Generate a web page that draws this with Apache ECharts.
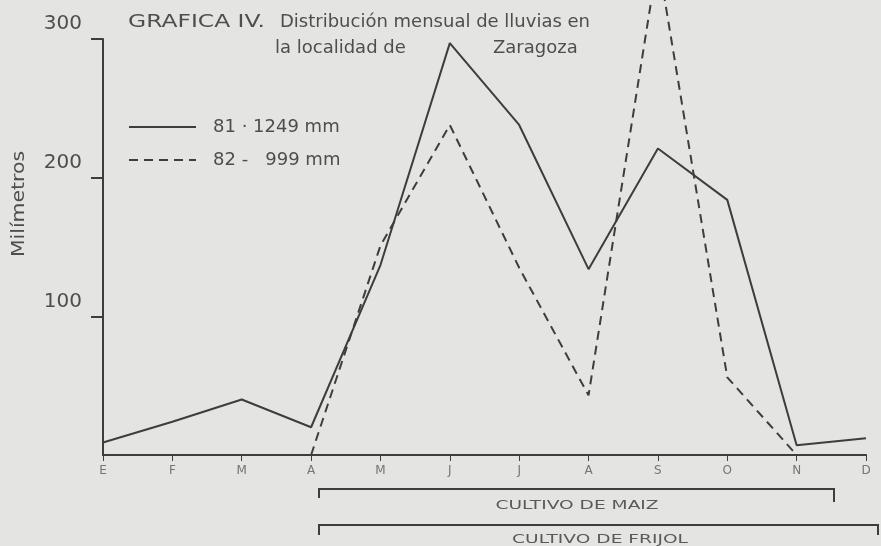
<!DOCTYPE html>
<html>
<head>
<meta charset="utf-8">
<script src="https://cdn.jsdelivr.net/npm/echarts@6/dist/echarts.min.js"></script>
<style>
    html, body { margin: 0; padding: 0; background: #e4e4e2; }
    #chart { width: 881px; height: 546px; }
</style>
</head>
<body>
<div id="chart"></div>
<script>
const months = ['E', 'F', 'M', 'A', 'M', 'J', 'J', 'A', 'S', 'O', 'N', 'D'];
// lluvia mensual (mm)
const rain81 = [9, 24, 40, 20, 137, 297, 238, 134, 221, 184, 7, 12];
const rain82 = [null, null, null, 0, 151, 238, 135, 43, 358, 56, 0, null];
const yTicks = [100, 200, 300];
const seriesNames = ['81 · 1249 mm', '82 -   999 mm'];

const ink = '#3d3d3d';
const textColor = '#4e4e4e';
const font = 'DejaVu Sans';

const chart = echarts.init(document.getElementById('chart'));

const bracket = (points) => ({
    type: 'polyline',
    shape: { points },
    style: { stroke: ink, lineWidth: 2, fill: null },
});

const label = (x, y, text, fontSize, opts = {}) => ({
    type: 'text',
    x,
    y,
    rotation: opts.rotation ?? 0,
    scaleX: opts.scaleX ?? 1,
    style: {
        text,
        fill: opts.color ?? textColor,
        font: `${fontSize}px "${font}"`,
        textAlign: opts.align ?? 'left',
        textVerticalAlign: 'middle',
    },
});

chart.setOption({
    backgroundColor: '#e4e4e2',
    animation: false,
    grid: {
        left: 103,
        right: 15,
        top: 39,
        bottom: 91,
    },
    legend: {
        orient: 'vertical',
        left: 128,
        top: 118,
        padding: 0,
        itemWidth: 67,
        itemHeight: 14,
        itemGap: 15,
        itemStyle: { opacity: 0 },
        textStyle: {
            fontFamily: font,
            fontSize: 18,
            color: textColor,
            padding: [0, 0, 0, 12],
        },
        data: seriesNames,
    },
    xAxis: {
        type: 'category',
        data: months,
        boundaryGap: false,
        axisLine: { lineStyle: { color: ink, width: 2 } },
        axisTick: { length: 6, lineStyle: { color: ink, width: 1 } },
        axisLabel: {
            fontFamily: font,
            fontSize: 12,
            color: '#757575',
            margin: 10,
        },
        splitLine: { show: false },
    },
    yAxis: {
        type: 'value',
        min: 0,
        max: 300,
        interval: 100,
        axisLine: { show: true, lineStyle: { color: ink, width: 2 } },
        axisTick: {
            show: true,
            length: 12,
            customValues: yTicks,
            lineStyle: { color: ink, width: 2 },
        },
        axisLabel: {
            fontFamily: font,
            fontSize: 20,
            color: textColor,
            margin: 21,
            verticalAlign: 'bottom',
            padding: [0, 0, 5, 0],
            customValues: yTicks,
            formatter: (v) => (v === 0 ? '' : v),
        },
        splitLine: { show: false },
    },
    series: [
        {
            name: seriesNames[0],
            type: 'line',
            data: rain81,
            symbol: 'none',
            clip: false,
            lineStyle: { color: ink, width: 2 },
            itemStyle: { color: ink },
        },
        {
            name: seriesNames[1],
            type: 'line',
            data: rain82,
            symbol: 'none',
            clip: false,
            lineStyle: { color: ink, width: 2, type: [9, 6] },
            itemStyle: { color: ink },
        },
    ],
    graphic: [
        label(128, 22, 'GRAFICA IV.', 18, { scaleX: 1.3 }),
        label(280, 22, 'Distribución mensual de lluvias en', 18),
        label(275, 48, 'la localidad de', 18),
        label(493, 48, 'Zaragoza', 18),
        label(20, 204, 'Milímetros', 17, { rotation: Math.PI / 2, scaleX: 1.2, align: 'center' }),
        bracket([[319, 498], [319, 489], [834, 489], [834, 502]]),
        bracket([[319, 535], [319, 525], [878, 525], [878, 535]]),
        label(577, 506, 'CULTIVO DE MAIZ', 12, { scaleX: 1.55, align: 'center', color: '#5a5a5a' }),
        label(600, 540, 'CULTIVO DE FRIJOL', 12, { scaleX: 1.55, align: 'center', color: '#5a5a5a' }),
    ],
});
</script>
</body>
</html>
